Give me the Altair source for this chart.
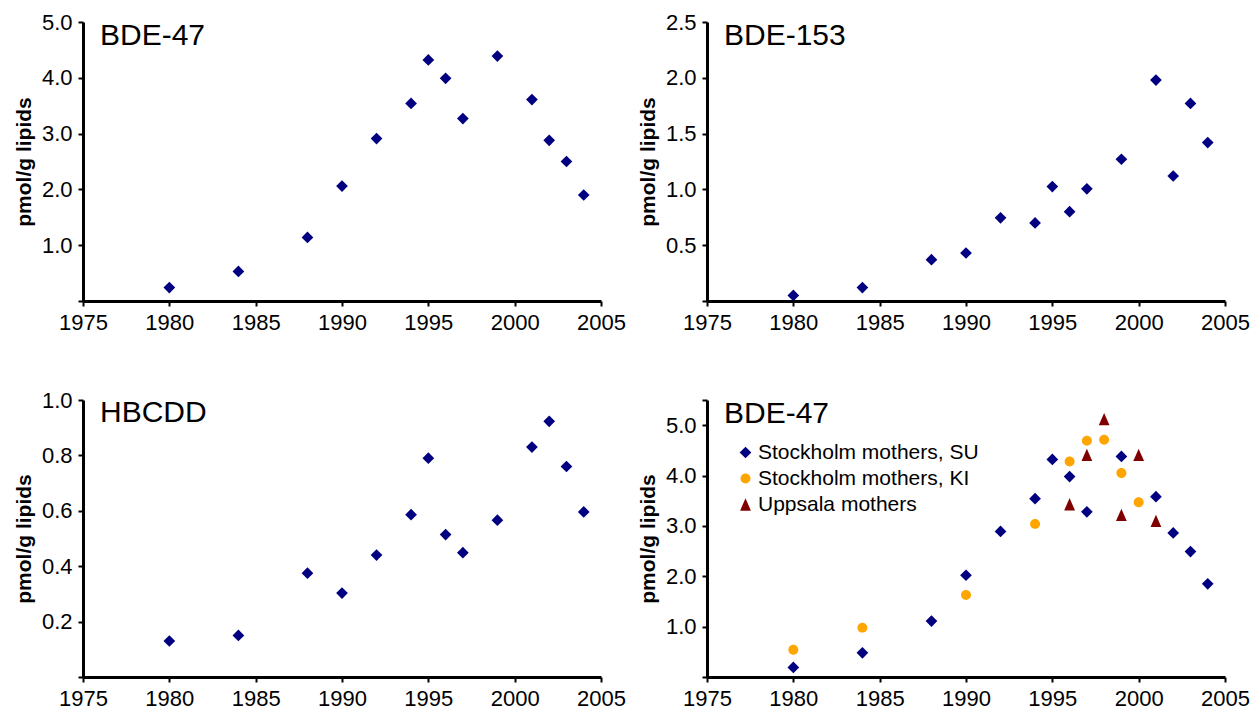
import altair as alt
import pandas as pd

FONT = "Liberation Sans"

# ---- data ----
years_su = [1980, 1984, 1988, 1990, 1992, 1994, 1995, 1996, 1997, 1999, 2001, 2002, 2003, 2004]
bde47 = [0.24, 0.53, 1.14, 2.06, 2.91, 3.54, 4.32, 3.99, 3.27, 4.39, 3.61, 2.88, 2.50, 1.90]
bde153 = [0.05, 0.12, 0.37, 0.43, 0.745, 0.70, 1.025, 0.80, 1.005, 1.27, 1.98, 1.12, 1.77, 1.42]
hbcdd = [0.13, 0.15, 0.375, 0.303, 0.44, 0.586, 0.79, 0.514, 0.449, 0.566, 0.83, 0.923, 0.76, 0.596]

su_b = [0.19, 0.48, 1.11, 2.02, 2.89, 3.54, 4.32, 3.98, 3.28, 4.38, 3.58, 2.86, 2.49, 1.85]
years_ki = [1980, 1984, 1990, 1994, 1996, 1997, 1998, 1999, 2000]
ki_b = [0.54, 0.98, 1.63, 3.04, 4.28, 4.69, 4.71, 4.05, 3.47]
years_up = [1996, 1997, 1998, 1999, 2000, 2001]
up_b = [3.43, 4.41, 5.12, 3.22, 4.41, 3.10]

series_names = ["Stockholm mothers, SU", "Stockholm mothers, KI", "Uppsala mothers"]
series_colors = ["#000080", "#FFA500", "#800000"]
series_shapes = [
    "diamond",
    "M-0.85,0A0.85,0.85 0 1,0 0.85,0A0.85,0.85 0 1,0 -0.85,0Z",
    "M0,-1.05L-0.92,1.05L0.92,1.05Z",
]

x_ticks = [1975, 1980, 1985, 1990, 1995, 2000, 2005]

W, H = 518, 279
H2 = 277
COLSP, ROWSP = 106, 99
SIZE = 137


def xenc():
    return alt.X(
        "year:Q",
        scale=alt.Scale(domain=[1975, 2005], nice=False, zero=False),
        axis=alt.Axis(values=x_ticks, format="d", title=None, labelFlush=False),
    )


def yenc(top, ticks, hide):
    expr = "indexof(" + str(hide) + ", datum.value) >= 0 ? '' : format(datum.value, '.1f')"
    return alt.Y(
        "value:Q",
        scale=alt.Scale(domain=[0, top], nice=False),
        axis=alt.Axis(values=ticks, labelExpr=expr, title="pmol/g lipids"),
    )


def label_layer(name, yb=23):
    return alt.Chart(pd.DataFrame({"label": [name]})).mark_text(
        align="left", baseline="alphabetic", font=FONT, fontSize=30, color="black"
    ).encode(x=alt.value(17), y=alt.value(yb), text="label:N")


def simple_panel(name, values, top, ticks, h, yb=23):
    df = pd.DataFrame({"year": years_su, "value": values})
    pts = alt.Chart(df).mark_point(
        shape="diamond", filled=True, size=SIZE, color="#000080", opacity=1, strokeWidth=0
    ).encode(x=xenc(), y=yenc(top, ticks, [0]))
    return alt.layer(pts, label_layer(name, yb)).properties(width=W, height=h)


p1 = simple_panel("BDE-47", bde47, 5.0, [0, 1, 2, 3, 4, 5], H)
p2 = simple_panel("BDE-153", bde153, 2.5, [0, 0.5, 1.0, 1.5, 2.0, 2.5], H)
p3 = simple_panel("HBCDD", hbcdd, 1.0, [0, 0.2, 0.4, 0.6, 0.8, 1.0], H2, yb=22)

df4 = pd.concat([
    pd.DataFrame({"year": years_su, "value": su_b, "series": series_names[0]}),
    pd.DataFrame({"year": years_ki, "value": ki_b, "series": series_names[1]}),
    pd.DataFrame({"year": years_up, "value": up_b, "series": series_names[2]}),
])

leg = alt.Legend(
    title=None, orient="none", legendX=W + COLSP + 28, legendY=H + ROWSP + 42, padding=0,
    labelFont=FONT, labelFontSize=21, labelColor="black", labelLimit=400,
    labelOffset=2, rowPadding=4, symbolSize=SIZE, symbolStrokeWidth=0,
)
pts4 = alt.Chart(df4).mark_point(filled=True, size=SIZE, opacity=1, strokeWidth=0).encode(
    x=xenc(),
    y=yenc(5.5, [0, 1, 2, 3, 4, 5, 5.5], [0, 5.5]),
    color=alt.Color("series:N", scale=alt.Scale(domain=series_names, range=series_colors), legend=leg),
    shape=alt.Shape("series:N", scale=alt.Scale(domain=series_names, range=series_shapes), legend=leg),
)
p4 = alt.layer(pts4, label_layer("BDE-47")).properties(width=W, height=H2)

chart = alt.concat(
    p1, p2, p3, p4, columns=2, spacing={"row": ROWSP, "column": COLSP}, bounds="flush"
).properties(
    padding={"left": 5, "top": 3, "right": 0, "bottom": 0}
).configure_view(stroke=None).configure_axis(
    grid=False,
    domainColor="black", domainWidth=3,
    tickColor="black", tickWidth=2, tickSize=5,
    labelFont=FONT, labelFontSize=22, labelColor="black", labelPadding=6,
    titleFont=FONT, titleFontSize=21, titleFontWeight="bold", titleColor="black",
    titlePadding=7, labelOverlap=False,
)

chart.save("out.html", embed_options={"renderer": "svg", "actions": False})
